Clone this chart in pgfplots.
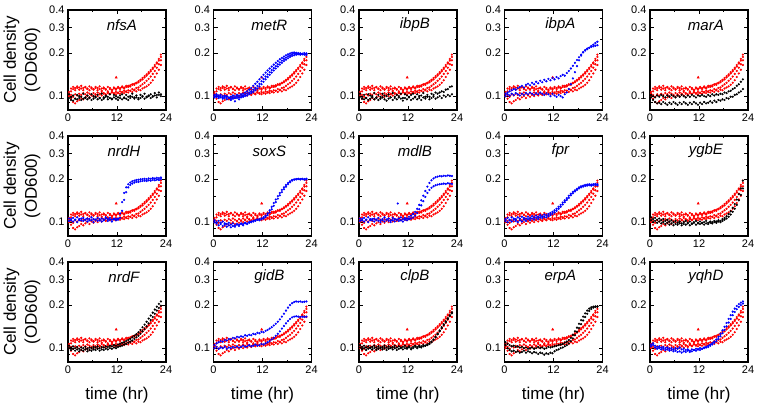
\documentclass[border=0pt]{standalone}
\usepackage{fontspec}
\setmainfont{Liberation Sans}
\usepackage{pgfplots}
\usepackage{pgfplotstable}
\pgfplotsset{compat=1.18}
\usepgfplotslibrary{groupplots}
\usetikzlibrary{calc}

\pgfplotstableread{
t a b c d
0.25 .103 .100 .104 .107
0.75 .108 .096 .102 .113
1.25 .112 .091 .099 .116
1.75 .110 .089 .103 .114
2.25 .114 .092 .101 .117
2.75 .111 .094 .104 .115
3.25 .113 .097 .102 .118
3.75 .110 .095 .105 .114
4.25 .115 .098 .103 .116
4.75 .112 .100 .106 .113
5.25 .110 .097 .104 .117
5.75 .113 .101 .102 .115
6.25 .111 .099 .105 .112
6.75 .114 .102 .103 .116
7.25 .110 .100 .106 .114
7.75 .112 .103 .104 .117
8.25 .109 .101 .107 .113
8.75 .113 .104 .105 .115
9.25 .111 .102 .103 .112
9.75 .108 .105 .106 .116
10.25 .112 .103 .104 .114
10.75 .110 .106 .107 .111
11.25 .113 .104 .105 .115
11.75 .111 .107 .103 .113
12.25 .114 .105 .106 .116
12.75 .112 .108 .104 .114
13.25 .115 .106 .107 .117
13.75 .113 .109 .105 .115
14.25 .116 .107 .108 .118
14.75 .118 .110 .106 .116
15.25 .117 .109 .109 .119
15.75 .120 .112 .107 .121
16.25 .122 .111 .110 .120
16.75 .124 .114 .108 .123
17.25 .127 .115 .111 .125
17.75 .130 .118 .110 .128
18.25 .134 .121 .113 .131
18.75 .138 .124 .115 .135
19.25 .142 .128 .117 .139
19.75 .147 .132 .120 .144
20.25 .152 .137 .124 .149
20.75 .158 .143 .129 .155
21.25 .165 .150 .136 .161
21.75 .172 .158 .144 .169
22.25 .182 .167 .153 .177
22.75 .195 .178 .165 .188
}\dred

\pgfplotstableread{
t a b
0.25 .103 .097
0.75 .098 .094
1.25 .101 .093
1.75 .096 .096
2.25 .102 .095
2.75 .100 .097
3.25 .099 .094
3.75 .104 .096
4.25 .097 .098
4.75 .101 .095
5.25 .098 .097
5.75 .103 .094
6.25 .100 .096
6.75 .099 .098
7.25 .102 .095
7.75 .097 .097
8.25 .104 .094
8.75 .098 .096
9.25 .101 .099
9.75 .099 .095
10.25 .103 .097
10.75 .096 .095
11.25 .102 .098
11.75 .100 .096
12.25 .098 .094
12.75 .101 .097
13.25 .103 .095
13.75 .097 .098
14.25 .102 .096
14.75 .099 .094
15.25 .100 .097
15.75 .104 .099
16.25 .098 .096
16.75 .101 .098
17.25 .097 .095
17.75 .102 .097
18.25 .100 .099
18.75 .104 .096
19.25 .099 .098
19.75 .101 .100
20.25 .103 .097
20.75 .100 .099
21.25 .105 .101
21.75 .102 .098
22.25 .106 .102
22.75 .103 .100
}\dnfsA

\pgfplotstableread{
t a b c
0.25 .102 .098 .100
0.75 .099 .101 .103
1.25 .101 .097 .099
1.75 .098 .100 .102
2.25 .100 .096 .098
2.75 .097 .099 .101
3.25 .099 .095 .100
3.75 .098 .097 .097
4.25 .096 .094 .099
4.75 .098 .096 .101
5.25 .097 .092 .100
5.75 .099 .097 .102
6.25 .098 .095 .101
6.75 .100 .098 .103
7.25 .101 .099 .104
7.75 .102 .100 .106
8.25 .104 .101 .108
8.75 .106 .103 .111
9.25 .108 .105 .114
9.75 .111 .107 .118
10.25 .114 .110 .122
10.75 .118 .113 .126
11.25 .122 .117 .131
11.75 .127 .121 .136
12.25 .132 .126 .141
12.75 .137 .131 .146
13.25 .142 .136 .151
13.75 .147 .141 .156
14.25 .152 .146 .161
14.75 .157 .151 .166
15.25 .162 .156 .171
15.75 .167 .161 .176
16.25 .172 .166 .181
16.75 .177 .171 .185
17.25 .182 .176 .189
17.75 .186 .180 .193
18.25 .190 .184 .196
18.75 .193 .188 .199
19.25 .196 .191 .201
19.75 .198 .193 .202
20.25 .199 .195 .201
20.75 .198 .196 .200
21.25 .197 .195 .199
21.75 .196 .197 .198
22.25 .195 .196 .200
22.75 .194 .198 .199
}\dmetR

\pgfplotstableread{
t a b
0.25 .104 .099
0.75 .099 .096
1.25 .102 .095
1.75 .097 .097
2.25 .103 .094
2.75 .101 .096
3.25 .100 .098
3.75 .105 .095
4.25 .098 .097
4.75 .102 .094
5.25 .099 .096
5.75 .104 .098
6.25 .101 .095
6.75 .100 .093
7.25 .103 .096
7.75 .098 .098
8.25 .105 .094
8.75 .099 .097
9.25 .102 .095
9.75 .100 .098
10.25 .104 .096
10.75 .097 .093
11.25 .103 .097
11.75 .101 .095
12.25 .099 .098
12.75 .102 .094
13.25 .104 .096
13.75 .098 .099
14.25 .103 .095
14.75 .100 .097
15.25 .101 .094
15.75 .105 .098
16.25 .099 .096
16.75 .102 .099
17.25 .099 .095
17.75 .104 .097
18.25 .102 .099
18.75 .106 .096
19.25 .104 .098
19.75 .106 .100
20.25 .108 .097
20.75 .107 .101
21.25 .111 .099
21.75 .112 .102
22.25 .116 .100
22.75 .117 .103
}\dibpB

\pgfplotstableread{
t a b
0.25 .104 .100
0.75 .106 .103
1.25 .108 .101
1.75 .110 .104
2.25 .112 .102
2.75 .111 .105
3.25 .114 .103
3.75 .116 .101
4.25 .118 .104
4.75 .115 .102
5.25 .120 .105
5.75 .122 .103
6.25 .119 .106
6.75 .124 .104
7.25 .121 .102
7.75 .126 .105
8.25 .123 .103
8.75 .128 .106
9.25 .125 .104
9.75 .130 .102
10.25 .127 .105
10.75 .132 .103
11.25 .129 .100
11.75 .134 .104
12.25 .131 .101
12.75 .136 .099
13.25 .133 .102
13.75 .138 .100
14.25 .141 .098
14.75 .139 .103
15.25 .145 .106
15.75 .150 .112
16.25 .156 .121
16.75 .163 .133
17.25 .171 .147
17.75 .179 .162
18.25 .187 .178
18.75 .195 .192
19.25 .202 .203
19.75 .208 .210
20.25 .213 .215
20.75 .218 .218
21.25 .224 .221
21.75 .229 .223
22.25 .235 .225
22.75 .240 .227
}\dibpA

\pgfplotstableread{
t a b
0.25 .102 .098
0.75 .100 .094
1.25 .098 .091
1.75 .101 .089
2.25 .099 .090
2.75 .102 .088
3.25 .100 .091
3.75 .098 .089
4.25 .101 .087
4.75 .099 .090
5.25 .102 .088
5.75 .100 .091
6.25 .098 .089
6.75 .101 .087
7.25 .099 .090
7.75 .102 .088
8.25 .100 .091
8.75 .098 .089
9.25 .101 .087
9.75 .099 .090
10.25 .102 .088
10.75 .100 .091
11.25 .098 .089
11.75 .101 .087
12.25 .100 .090
12.75 .102 .088
13.25 .100 .091
13.75 .099 .089
14.25 .102 .090
14.75 .100 .092
15.25 .103 .090
15.75 .101 .093
16.25 .103 .091
16.75 .102 .094
17.25 .104 .093
17.75 .103 .095
18.25 .106 .094
18.75 .105 .097
19.25 .108 .096
19.75 .109 .099
20.25 .112 .099
20.75 .114 .102
21.25 .118 .103
21.75 .121 .106
22.25 .126 .108
22.75 .131 .112
}\dmarA

\pgfplotstableread{
t a b
0.25 .106 .102
0.75 .103 .105
1.25 .107 .101
1.75 .104 .104
2.25 .108 .100
2.75 .105 .103
3.25 .103 .106
3.75 .107 .102
4.25 .104 .104
4.75 .106 .101
5.25 .103 .105
5.75 .108 .103
6.25 .105 .100
6.75 .104 .104
7.25 .107 .102
7.75 .103 .105
8.25 .106 .101
8.75 .104 .103
9.25 .108 .106
9.75 .105 .102
10.25 .107 .104
10.75 .104 .101
11.25 .106 .105
11.75 .105 .103
12.25 .106 .104
12.75 .115 .107
13.25 .138 .120
13.75 .160 .143
14.25 .175 .162
14.75 .184 .175
15.25 .189 .182
15.75 .193 .186
16.25 .195 .189
16.75 .197 .191
17.25 .198 .191
17.75 .199 .193
18.25 .200 .194
18.75 .201 .195
19.25 .200 .194
19.75 .202 .196
20.25 .201 .195
20.75 .203 .197
21.25 .202 .196
21.75 .204 .198
22.25 .203 .197
22.75 .205 .200
}\dnrdH

\pgfplotstableread{
t a b
0.25 .103 .100
0.75 .100 .098
1.25 .102 .095
1.75 .099 .097
2.25 .101 .094
2.75 .098 .096
3.25 .097 .093
3.75 .099 .095
4.25 .096 .092
4.75 .098 .094
5.25 .095 .093
5.75 .097 .096
6.25 .096 .094
6.75 .098 .097
7.25 .097 .095
7.75 .099 .098
8.25 .098 .097
8.75 .100 .099
9.25 .101 .100
9.75 .102 .101
10.25 .103 .102
10.75 .104 .104
11.25 .105 .103
11.75 .106 .105
12.25 .108 .106
12.75 .111 .109
13.25 .115 .112
13.75 .121 .117
14.25 .128 .123
14.75 .136 .130
15.25 .144 .138
15.75 .152 .146
16.25 .160 .154
16.75 .168 .162
17.25 .175 .170
17.75 .182 .177
18.25 .188 .184
18.75 .193 .190
19.25 .197 .195
19.75 .199 .198
20.25 .200 .199
20.75 .201 .200
21.25 .200 .199
21.75 .201 .200
22.25 .200 .198
22.75 .201 .199
}\dsoxS

\pgfplotstableread{
t a b
0.25 .106 .102
0.75 .103 .105
1.25 .107 .101
1.75 .104 .104
2.25 .108 .100
2.75 .105 .103
3.25 .103 .105
3.75 .106 .101
4.25 .104 .104
4.75 .107 .102
5.25 .103 .100
5.75 .105 .103
6.25 .108 .101
6.75 .104 .104
7.25 .106 .102
7.75 .103 .100
8.25 .107 .103
8.75 .105 .101
9.25 .104 .104
9.75 .106 .102
10.25 .108 .103
10.75 .105 .101
11.25 .107 .104
11.75 .106 .103
12.25 .109 .105
12.75 .111 .106
13.25 .114 .108
13.75 .118 .111
14.25 .124 .116
14.75 .132 .123
15.25 .142 .131
15.75 .153 .140
16.25 .165 .150
16.75 .177 .160
17.25 .188 .168
17.75 .196 .174
18.25 .202 .178
18.75 .206 .181
19.25 .208 .183
19.75 .210 .184
20.25 .209 .185
20.75 .211 .186
21.25 .210 .185
21.75 .212 .187
22.25 .211 .186
22.75 .210 .185
}\dmdlB

\pgfplotstableread{
t a b
0.25 .105 .102
0.75 .107 .100
1.25 .104 .103
1.75 .108 .101
2.25 .106 .104
2.75 .105 .102
3.25 .108 .100
3.75 .106 .103
4.25 .109 .101
4.75 .107 .104
5.25 .106 .102
5.75 .109 .105
6.25 .107 .103
6.75 .110 .106
7.25 .108 .104
7.75 .111 .107
8.25 .109 .105
8.75 .112 .108
9.25 .110 .107
9.75 .113 .109
10.25 .112 .108
10.75 .114 .110
11.25 .116 .112
11.75 .118 .114
12.25 .121 .117
12.75 .124 .120
13.25 .128 .124
13.75 .132 .128
14.25 .137 .133
14.75 .142 .138
15.25 .147 .143
15.75 .153 .148
16.25 .158 .154
16.75 .163 .159
17.25 .167 .164
17.75 .171 .168
18.25 .175 .172
18.75 .178 .175
19.25 .180 .177
19.75 .182 .179
20.25 .183 .180
20.75 .184 .181
21.25 .183 .180
21.75 .184 .181
22.25 .185 .182
22.75 .184 .181
}\dfpr

\pgfplotstableread{
t a b
0.25 .108 .103
0.75 .105 .100
1.25 .107 .102
1.75 .104 .099
2.25 .106 .101
2.75 .103 .098
3.25 .105 .100
3.75 .102 .097
4.25 .104 .099
4.75 .101 .096
5.25 .103 .098
5.75 .100 .095
6.25 .102 .097
6.75 .099 .096
7.25 .101 .098
7.75 .098 .095
8.25 .100 .097
8.75 .102 .096
9.25 .099 .098
9.75 .101 .095
10.25 .098 .097
10.75 .100 .099
11.25 .102 .096
11.75 .099 .098
12.25 .101 .097
12.75 .098 .099
13.25 .100 .096
13.75 .102 .098
14.25 .099 .097
14.75 .101 .099
15.25 .100 .098
15.75 .102 .100
16.25 .101 .099
16.75 .103 .101
17.25 .102 .100
17.75 .105 .102
18.25 .107 .104
18.75 .110 .106
19.25 .114 .109
19.75 .119 .113
20.25 .126 .118
20.75 .134 .124
21.25 .144 .132
21.75 .157 .142
22.25 .172 .155
22.75 .195 .172
}\dygbE

\pgfplotstableread{
t a b
0.25 .104 .100
0.75 .101 .097
1.25 .103 .099
1.75 .100 .096
2.25 .102 .098
2.75 .099 .095
3.25 .101 .097
3.75 .100 .096
4.25 .102 .098
4.75 .099 .095
5.25 .101 .097
5.75 .100 .096
6.25 .102 .098
6.75 .101 .097
7.25 .103 .099
7.75 .100 .096
8.25 .102 .098
8.75 .101 .097
9.25 .103 .099
9.75 .102 .098
10.25 .104 .100
10.75 .103 .099
11.25 .105 .101
11.75 .104 .100
12.25 .106 .102
12.75 .107 .103
13.25 .109 .104
13.75 .110 .106
14.25 .112 .107
14.75 .114 .109
15.25 .116 .111
15.75 .119 .113
16.25 .122 .116
16.75 .125 .119
17.25 .129 .122
17.75 .134 .126
18.25 .140 .131
18.75 .146 .136
19.25 .153 .142
19.75 .161 .149
20.25 .169 .157
20.75 .177 .165
21.25 .186 .174
21.75 .195 .183
22.25 .204 .191
22.75 .212 .198
}\dnrdF

\pgfplotstableread{
t a b
0.25 .105 .100
0.75 .108 .102
1.25 .110 .099
1.75 .112 .101
2.25 .111 .100
2.75 .114 .102
3.25 .113 .099
3.75 .116 .101
4.25 .115 .100
4.75 .118 .102
5.25 .117 .101
5.75 .120 .103
6.25 .119 .101
6.75 .121 .102
7.25 .120 .104
7.75 .123 .102
8.25 .122 .103
8.75 .124 .105
9.25 .123 .103
9.75 .126 .104
10.25 .125 .106
10.75 .128 .104
11.25 .127 .105
11.75 .130 .107
12.25 .129 .106
12.75 .132 .108
13.25 .134 .110
13.75 .137 .112
14.25 .140 .115
14.75 .144 .118
15.25 .148 .122
15.75 .153 .126
16.25 .159 .131
16.75 .166 .137
17.25 .174 .143
17.75 .183 .149
18.25 .192 .155
18.75 .200 .160
19.25 .206 .164
19.75 .210 .166
20.25 .212 .167
20.75 .211 .166
21.25 .212 .165
21.75 .210 .166
22.25 .211 .165
22.75 .212 .166
}\dgidB

\pgfplotstableread{
t a b
0.25 .105 .101
0.75 .102 .098
1.25 .104 .100
1.75 .101 .097
2.25 .103 .099
2.75 .100 .101
3.25 .102 .098
3.75 .104 .100
4.25 .101 .097
4.75 .103 .099
5.25 .100 .101
5.75 .102 .098
6.25 .104 .100
6.75 .101 .097
7.25 .103 .099
7.75 .100 .101
8.25 .102 .098
8.75 .104 .100
9.25 .101 .097
9.75 .103 .099
10.25 .100 .101
10.75 .102 .098
11.25 .104 .100
11.75 .101 .099
12.25 .103 .101
12.75 .100 .098
13.25 .102 .100
13.75 .104 .102
14.25 .102 .100
14.75 .104 .102
15.25 .103 .101
15.75 .105 .103
16.25 .104 .104
16.75 .106 .105
17.25 .108 .107
17.75 .111 .110
18.25 .115 .114
18.75 .120 .119
19.25 .126 .125
19.75 .133 .131
20.25 .140 .138
20.75 .147 .145
21.25 .154 .152
21.75 .162 .160
22.25 .170 .168
22.75 .178 .175
}\dclpB

\pgfplotstableread{
t a b
0.25 .110 .105
0.75 .107 .100
1.25 .105 .097
1.75 .103 .095
2.25 .104 .096
2.75 .102 .094
3.25 .103 .095
3.75 .101 .093
4.25 .102 .094
4.75 .100 .096
5.25 .101 .093
5.75 .099 .095
6.25 .100 .094
6.75 .101 .092
7.25 .099 .094
7.75 .100 .093
8.25 .102 .091
8.75 .100 .093
9.25 .101 .092
9.75 .099 .090
10.25 .100 .092
10.75 .102 .091
11.25 .101 .093
11.75 .102 .092
12.25 .103 .095
12.75 .104 .097
13.25 .105 .098
13.75 .106 .100
14.25 .107 .101
14.75 .109 .103
15.25 .111 .105
15.75 .114 .108
16.25 .118 .112
16.75 .124 .117
17.25 .131 .123
17.75 .139 .130
18.25 .148 .138
18.75 .157 .147
19.25 .166 .156
19.75 .175 .165
20.25 .183 .174
20.75 .189 .182
21.25 .193 .188
21.75 .195 .192
22.25 .196 .194
22.75 .195 .196
}\derpA

\pgfplotstableread{
t a b
0.25 .106 .103
0.75 .108 .105
1.25 .104 .101
1.75 .102 .099
2.25 .103 .100
2.75 .101 .098
3.25 .102 .099
3.75 .100 .097
4.25 .101 .098
4.75 .099 .096
5.25 .100 .097
5.75 .098 .095
6.25 .100 .096
6.75 .099 .094
7.25 .101 .095
7.75 .098 .093
8.25 .099 .095
8.75 .097 .094
9.25 .098 .096
9.75 .096 .094
10.25 .098 .095
10.75 .097 .097
11.25 .099 .096
11.75 .098 .098
12.25 .100 .097
12.75 .099 .099
13.25 .101 .100
13.75 .102 .101
14.25 .104 .102
14.75 .106 .104
15.25 .108 .106
15.75 .111 .109
16.25 .115 .112
16.75 .120 .116
17.25 .126 .121
17.75 .133 .127
18.25 .141 .134
18.75 .150 .142
19.25 .160 .151
19.75 .170 .160
20.25 .180 .170
20.75 .189 .179
21.25 .197 .187
21.75 .203 .194
22.25 .208 .200
22.75 .212 .205
}\dyqhD

\definecolor{pR}{RGB}{255,0,0}
\definecolor{pB}{RGB}{0,0,255}

\pgfplotsset{
  panel/.style={
    scale only axis, width=98pt, height=100pt,
    xmin=0, xmax=24, ymode=log, ymin=0.08, ymax=0.4,
    xtick={0,12,24}, xticklabels={0,12,24}, minor xtick={6,18},
    ytick={0.1,0.2,0.3,0.4}, yticklabels={0.1,0.2,0.3,0.4},
    minor ytick={0.09,0.15,0.25,0.35},
    tick align=inside, major tick length=4pt, minor tick length=2.5pt,
    every tick/.style={black, line width=0.9pt},
    axis line style={line width=1.5pt},
    tick label style={font=\fontsize{11}{12}\selectfont},
    /pgf/number format/assume math mode=true,
    ylabel style={align=center, font=\fontsize{17}{21}\selectfont,
      at={(axis description cs:-0.47,0.5)}, anchor=center},
    xlabel style={font=\fontsize{17}{20}\selectfont,
      at={(axis description cs:0.5,-0.33)}, anchor=center},
    clip=false,
  },
  rdot/.style={only marks, mark=*, mark size=0.9pt, color=pR},
  kdot/.style={only marks, mark=*, mark size=0.9pt, color=black},
  bdot/.style={only marks, mark=*, mark size=0.9pt, color=pB},
}
\tikzset{ttl/.style={font=\itshape\fontsize{15}{15}\selectfont, anchor=center}}

\newcommand{\redset}{%
  \addplot[rdot] table[x=t,y=a]{\dred};
  \addplot[rdot] table[x=t,y=b]{\dred};
  \addplot[rdot] table[x=t,y=c]{\dred};
  \addplot[rdot] table[x=t,y=d]{\dred};
  \addplot[rdot, mark=triangle*, mark size=1.3pt] coordinates {(11.8,0.135)};
}
\newcommand{\twoset}[2]{%
  \addplot[#2] table[x=t,y=a]{#1};
  \addplot[#2] table[x=t,y=b]{#1};
}

\begin{document}
\begin{tikzpicture}
\begin{groupplot}[group style={group size=5 by 3, horizontal sep=47.5pt, vertical sep=26pt}, panel]
\nextgroupplot[ylabel={Cell density\\(OD600)}]
\coordinate (TL) at (rel axis cs:0,1);
\redset \twoset{\dnfsA}{kdot}
\node[ttl] at (rel axis cs:0.55,0.85) {nfsA};
\nextgroupplot
\redset \twoset{\dmetR}{bdot}
\addplot[bdot] table[x=t,y=c]{\dmetR};
\node[ttl] at (rel axis cs:0.57,0.85) {metR};
\nextgroupplot
\redset \twoset{\dibpB}{kdot}
\node[ttl] at (rel axis cs:0.57,0.85) {ibpB};
\nextgroupplot
\redset \twoset{\dibpA}{bdot}
\node[ttl] at (rel axis cs:0.57,0.85) {ibpA};
\nextgroupplot
\redset \twoset{\dmarA}{kdot}
\node[ttl] at (rel axis cs:0.57,0.85) {marA};
\nextgroupplot[ylabel={Cell density\\(OD600)}]
\redset \twoset{\dnrdH}{bdot}
\node[ttl] at (rel axis cs:0.57,0.85) {nrdH};
\nextgroupplot
\redset \twoset{\dsoxS}{bdot}
\node[ttl] at (rel axis cs:0.57,0.85) {soxS};
\nextgroupplot
\redset \twoset{\dmdlB}{bdot}
\addplot[bdot] coordinates {(9.5,0.135)};
\node[ttl] at (rel axis cs:0.57,0.85) {mdlB};
\nextgroupplot
\redset \twoset{\dfpr}{bdot}
\node[ttl] at (rel axis cs:0.57,0.85) {fpr};
\nextgroupplot
\redset \twoset{\dygbE}{kdot}
\node[ttl] at (rel axis cs:0.57,0.85) {ygbE};
\nextgroupplot[ylabel={Cell density\\(OD600)}, xlabel={time (hr)}]
\redset \twoset{\dnrdF}{kdot}
\node[ttl] at (rel axis cs:0.57,0.85) {nrdF};
\nextgroupplot[xlabel={time (hr)}]
\redset \twoset{\dgidB}{bdot}
\node[ttl] at (rel axis cs:0.57,0.85) {gidB};
\nextgroupplot[xlabel={time (hr)}]
\redset \twoset{\dclpB}{kdot}
\node[ttl] at (rel axis cs:0.57,0.85) {clpB};
\nextgroupplot[xlabel={time (hr)}]
\redset \twoset{\derpA}{kdot}
\node[ttl] at (rel axis cs:0.57,0.85) {erpA};
\nextgroupplot[xlabel={time (hr)}]
\redset \twoset{\dyqhD}{bdot}
\node[ttl] at (rel axis cs:0.57,0.85) {yqhD};
\end{groupplot}
\pgfresetboundingbox
\path[use as bounding box] ($(TL)+(-68pt,10pt)$) rectangle ++(760pt,-409pt);
\end{tikzpicture}
\end{document}
